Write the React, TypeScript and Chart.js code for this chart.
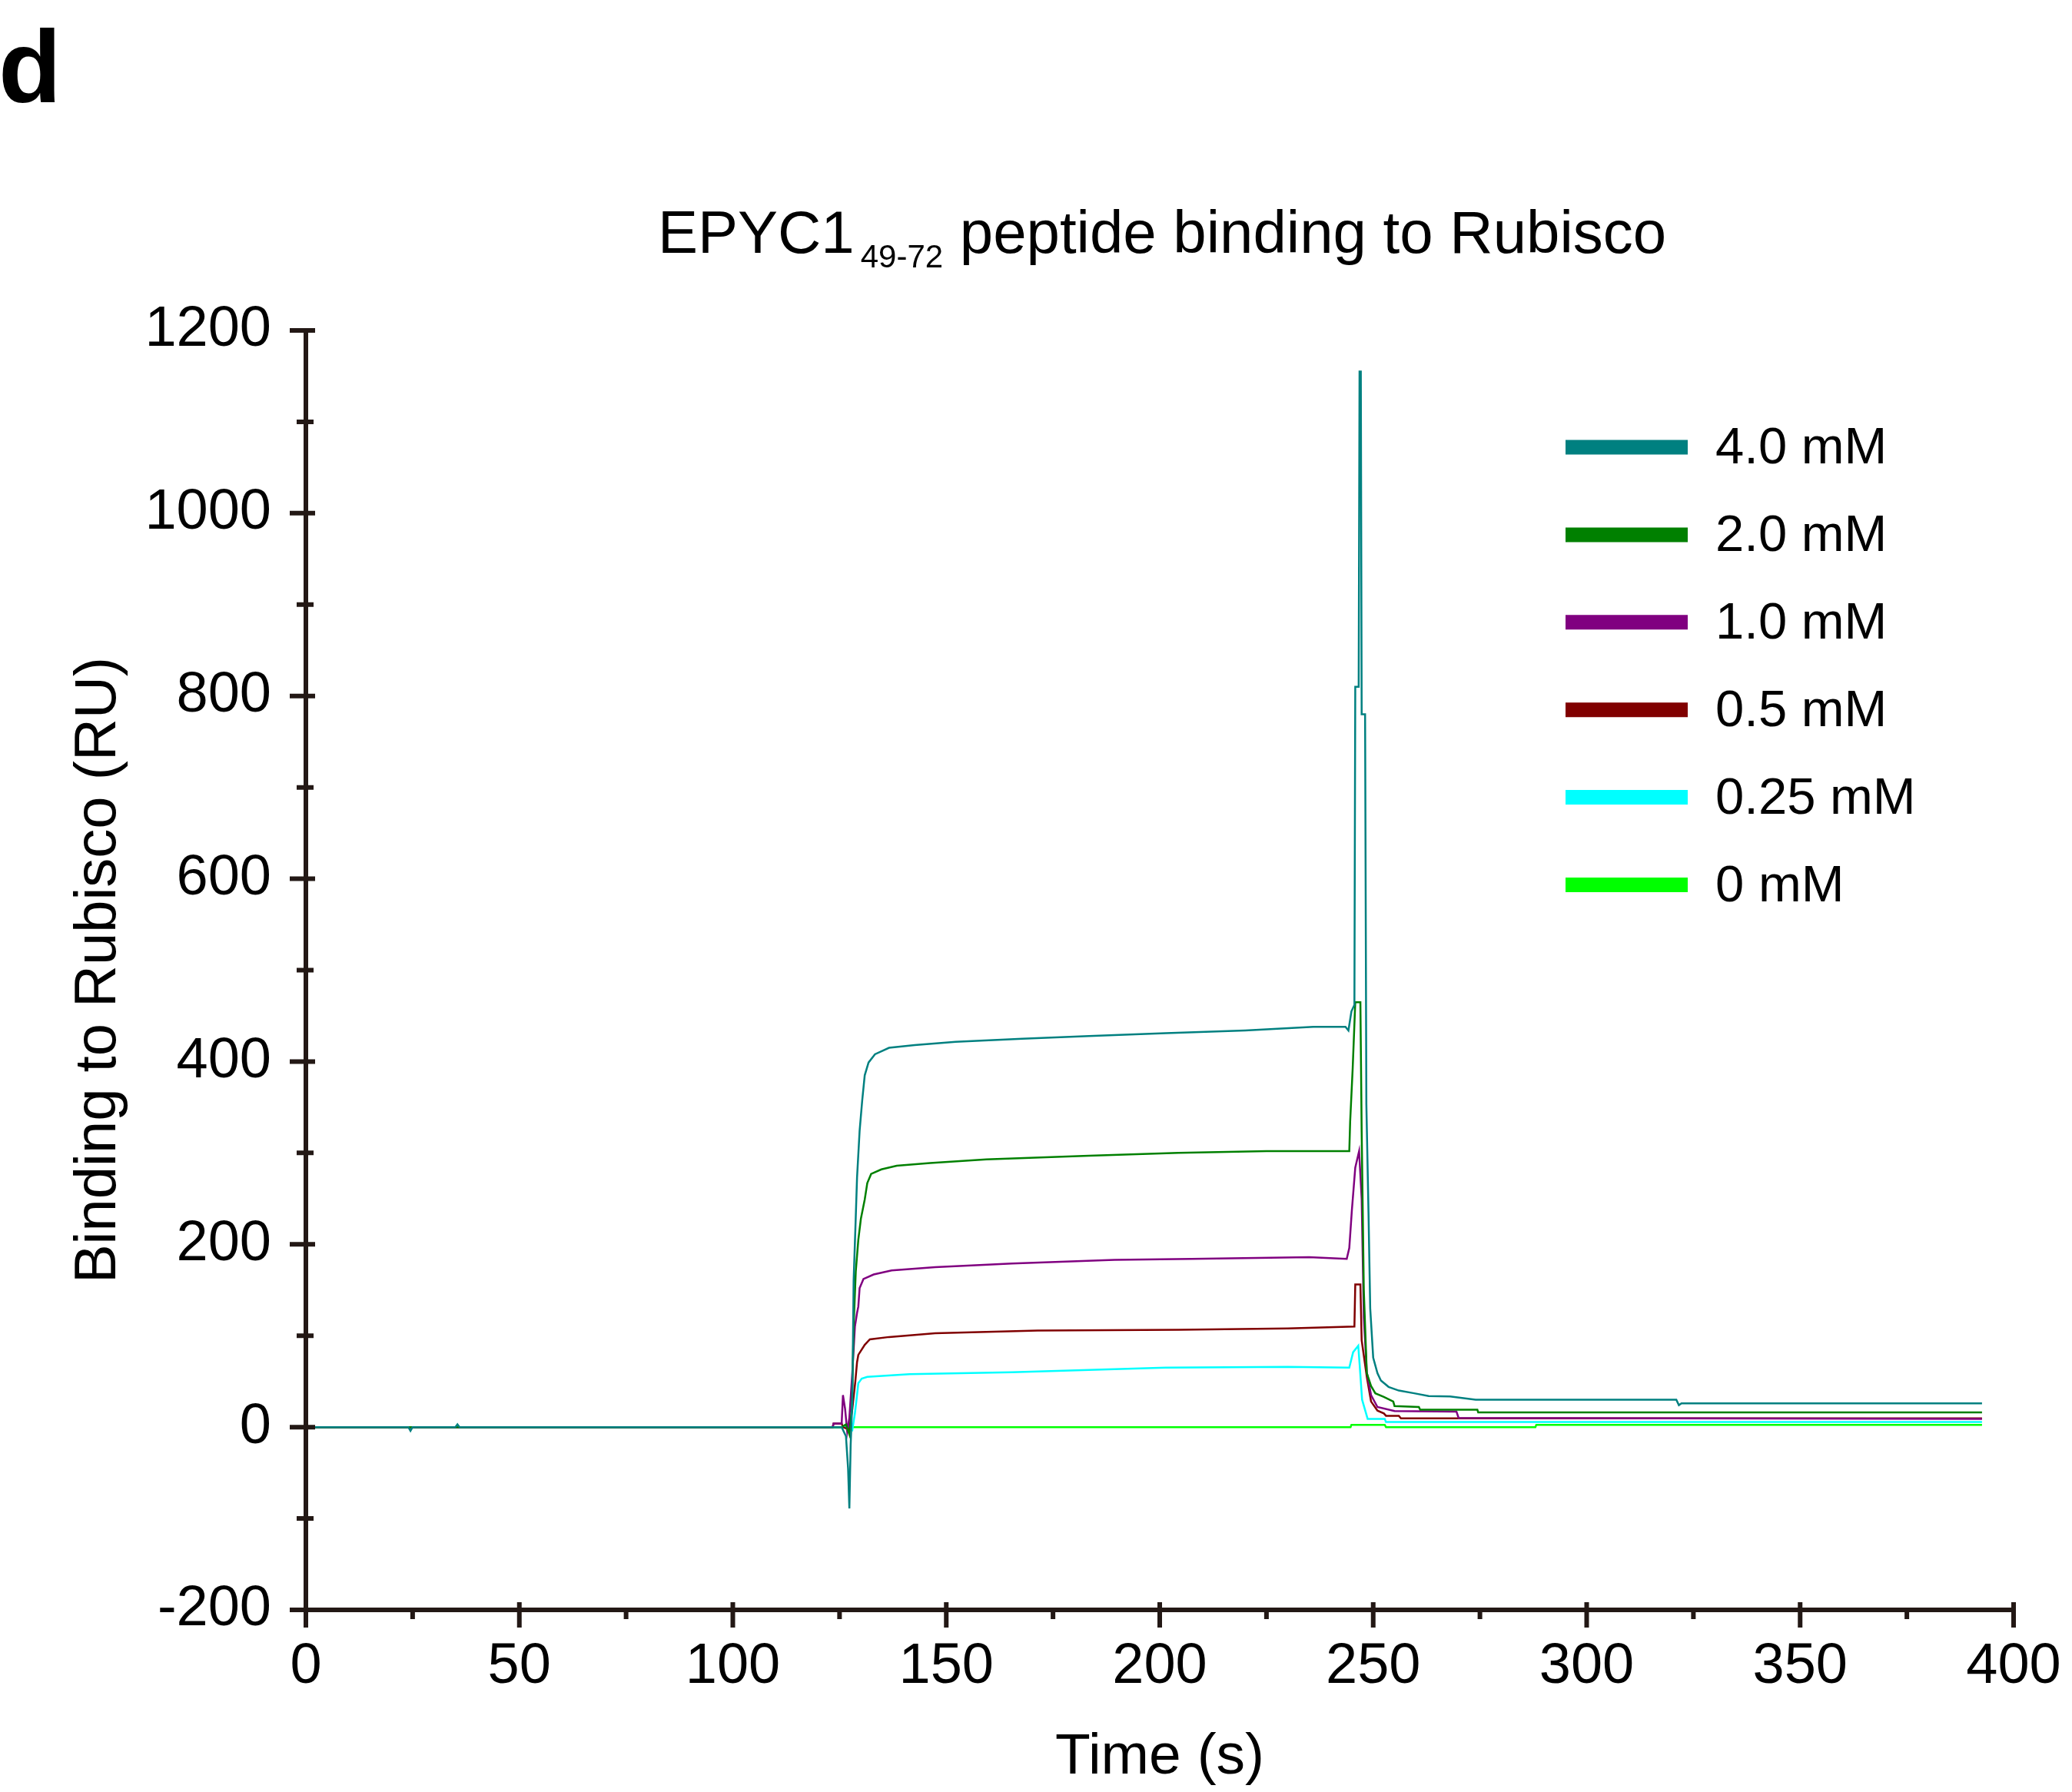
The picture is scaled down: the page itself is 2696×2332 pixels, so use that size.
import React, { useEffect, useRef } from "react";
import { Chart, registerables } from "chart.js";

Chart.register(...registerables);

const FONT = "'Liberation Sans', Arial, Helvetica, sans-serif";
const AXIS_COLOR = "#231815";

// ---- chart text ----
const panelLabel = "d";
const titleMain = "EPYC1";
const titleSub = "49-72";
const titleRest = " peptide binding to Rubisco";
const xTitle = "Time (s)";
const yTitle = "Binding to Rubisco (RU)";

// ---- axes ----
const xTickValues = [0, 50, 100, 150, 200, 250, 300, 350, 400];
const xMinorValues = [25, 75, 125, 175, 225, 275, 325, 375];
const yTickValues = [-200, 0, 200, 400, 600, 800, 1000, 1200];
const yMinorValues = [-100, 100, 300, 500, 700, 900, 1100];

// ---- series ----
const seriesLabels = ["4.0 mM", "2.0 mM", "1.0 mM", "0.5 mM", "0.25 mM", "0 mM"];
const seriesColors = ["#008080", "#008000", "#800080", "#800000", "#00FFFF", "#00FF00"];

const time40 = [0, 24, 24.5, 25, 35, 35.5, 36, 124, 125.5, 126.5, 127.0, 127.3, 127.6, 128.0, 128.3, 128.8, 129.1, 129.7, 130.3, 130.9, 131.8, 133.3, 136.6, 142.6, 152.2, 167.8, 183.4, 201.4, 220, 236, 243.5, 244.2, 244.9, 245.6, 245.8, 246.6, 246.8, 247.1, 247.3, 248.1, 248.4, 248.9, 249.3, 250, 251, 251.8, 253.6, 256, 259.6, 263, 268, 274, 321, 321.6, 322.2, 392.6];
const resp40 = [0, 0, -4, 0, 0, 3, 0, 0, 0, -10, -45, -89, -20, 30, 160, 230, 273, 324, 357, 385, 399, 408, 415, 418, 421.5, 425, 428, 431, 434, 438, 438, 434, 455, 462, 810, 810, 1155, 1155, 780, 780, 353, 235, 130, 76, 59, 51, 44, 40, 37, 34, 33.6, 30, 30, 24, 26, 26];

const time20 = [0, 125.5, 126.5, 127.3, 127.9, 128.3, 128.8, 129.4, 130.0, 130.9, 131.5, 132.4, 134.8, 138.4, 146.2, 159.4, 183.4, 204.4, 225, 244.4, 244.6, 245.2, 245.8, 247.0, 247.3, 247.8, 248.5, 249.5, 250.5, 252.5, 254.7, 255, 260.7, 261, 274.4, 274.6, 392.6];
const resp20 = [0, 0, 3, -8, 20, 110, 170, 205, 228, 249, 267, 277, 282, 286, 289, 293, 297, 300, 302, 302, 334, 393, 465, 465, 323, 150, 59, 45, 37, 33, 28, 23, 22, 19, 19, 16, 16];

const time10 = [0, 123.4, 123.6, 125.5, 125.8, 126.3, 126.8, 127.3, 128.0, 128.6, 129.1, 129.4, 129.7, 130.6, 133, 137.2, 147.4, 165.4, 189.4, 207.4, 235, 243.8, 244.4, 245.0, 245.8, 246.7, 247.3, 247.8, 248.5, 249.5, 251, 255, 269.5, 270, 392.6];
const resp10 = [0, 0, 4, 4, 35, 20, -5, 10, 60, 110, 125, 132, 152, 162, 167, 171.5, 175, 179, 183, 184, 186, 184, 196, 237, 284, 302, 250, 120, 60, 35, 22, 17.5, 17, 10, 9];

const time05 = [0, 123.4, 123.6, 125.5, 125.8, 127.3, 128.0, 128.7, 129.1, 129.4, 130.9, 132.1, 136.6, 147.4, 171.4, 204.4, 230, 245.6, 245.8, 247.0, 247.3, 248.5, 249.5, 251, 252.5, 253, 256, 256.5, 392.6];
const resp05 = [0, 0, 4, 4, 0, -3, 20, 50, 71, 79, 90, 96, 98.6, 102.8, 105.6, 106.4, 108, 110, 156, 156, 95, 55, 28, 18, 15, 12.4, 12.4, 9.5, 9.5];

const time025 = [0, 127.3, 128.0, 128.6, 129.0, 129.4, 130.2, 131.5, 141.4, 165.4, 201.4, 230, 244.4, 245.3, 246.5, 246.8, 247.4, 248.2, 248.7, 252.7, 253, 392.6];
const resp025 = [0, 0, -3, 15, 31, 48, 53, 55, 58, 60, 65, 66, 65, 82, 89, 70, 30, 17, 9, 9, 5.5, 5.5];

const time00 = [0, 244.7, 244.9, 252.7, 253, 288, 288.2, 392.6];
const resp00 = [0, 0, 2.5, 2.5, 0, 0, 2.5, 2.5];

const seriesTimes = [time40, time20, time10, time05, time025, time00];
const seriesValues = [resp40, resp20, resp10, resp05, resp025, resp00];

const decorPlugin = {
  id: "decor",
  afterDatasetsDraw(chart: any) {
    const ctx = chart.ctx;
    const xs = chart.scales.x;
    const ys = chart.scales.y;
    const x0 = xs.getPixelForValue(0);
    const x1 = xs.getPixelForValue(400);
    const yTop = ys.getPixelForValue(1200);
    const yBot = ys.getPixelForValue(-200);
    ctx.save();
    ctx.strokeStyle = AXIS_COLOR;
    ctx.lineWidth = 6;
    ctx.lineCap = "butt";
    ctx.beginPath();
    ctx.moveTo(x0, yTop);
    ctx.lineTo(x0, yBot);
    ctx.moveTo(x0, yBot);
    ctx.lineTo(x1, yBot);
    xTickValues.forEach((v) => {
      const px = xs.getPixelForValue(v);
      ctx.moveTo(px, yBot - 10);
      ctx.lineTo(px, yBot + 23);
    });
    xMinorValues.forEach((v) => {
      const px = xs.getPixelForValue(v);
      ctx.moveTo(px, yBot);
      ctx.lineTo(px, yBot + 12);
    });
    yTickValues.forEach((v) => {
      const py = ys.getPixelForValue(v);
      ctx.moveTo(x0 - 21, py);
      ctx.lineTo(x0 + 12, py);
    });
    yMinorValues.forEach((v) => {
      const py = ys.getPixelForValue(v);
      ctx.moveTo(x0 - 12, py);
      ctx.lineTo(x0 + 10, py);
    });
    ctx.stroke();

    // legend
    const ds = chart.data.datasets;
    ctx.textBaseline = "middle";
    ctx.textAlign = "left";
    ctx.font = `67px ${FONT}`;
    ds.forEach((d: any, i: number) => {
      const ry = 582 + i * 113.9;
      ctx.strokeStyle = d.borderColor;
      ctx.lineWidth = 19;
      ctx.beginPath();
      ctx.moveTo(2037, ry);
      ctx.lineTo(2196, ry);
      ctx.stroke();
      ctx.fillStyle = "#000";
      ctx.fillText(d.label, 2232, ry + 3);
    });

    // title
    ctx.fillStyle = "#000";
    ctx.textBaseline = "alphabetic";
    ctx.font = `78px ${FONT}`;
    const wMain = ctx.measureText(titleMain).width;
    const wRest = ctx.measureText(titleRest).width;
    ctx.font = `42px ${FONT}`;
    const wSub = ctx.measureText(titleSub).width;
    const gap = 8;
    const total = wMain + gap + wSub + wRest;
    const cx = (chart.chartArea.left + chart.chartArea.right) / 2 + 3;
    let tx = cx - total / 2;
    ctx.font = `78px ${FONT}`;
    ctx.fillText(titleMain, tx, 329);
    tx += wMain + gap;
    ctx.font = `42px ${FONT}`;
    ctx.fillText(titleSub, tx, 348);
    tx += wSub;
    ctx.font = `78px ${FONT}`;
    ctx.fillText(titleRest, tx, 329);

    // panel label
    ctx.font = `bold 134px ${FONT}`;
    ctx.fillText(panelLabel, -2, 133);
    ctx.restore();
  },
};

export default function App() {
  const ref = useRef<HTMLCanvasElement | null>(null);
  useEffect(() => {
    document.body.style.margin = "0";
    const canvas = ref.current;
    if (!canvas) return;
    const datasets = seriesLabels.map((label, i) => ({
      label,
      data: seriesTimes[i].map((t, j) => ({ x: t, y: seriesValues[i][j] })),
      borderColor: seriesColors[i],
      backgroundColor: seriesColors[i],
      borderWidth: 2.5,
      pointRadius: 0,
      fill: false,
      tension: 0,
    }));
    const chart = new Chart(canvas, {
      type: "line",
      data: { datasets },
      options: {
        animation: false,
        responsive: false,
        devicePixelRatio: 1,
        layout: { padding: { left: 0, top: 430, right: 76, bottom: 0 } },
        plugins: { legend: { display: false }, tooltip: { enabled: false } },
        scales: {
          x: {
            type: "linear",
            min: 0,
            max: 400,
            afterBuildTicks: (s: any) => {
              s.ticks = xTickValues.map((v) => ({ value: v }));
            },
            afterFit: (s: any) => {
              s.height = 237;
              s.paddingLeft = 0;
              s.paddingRight = 0;
            },
            grid: { display: false, drawTicks: false },
            border: { display: false },
            ticks: {
              padding: 30,
              maxRotation: 0,
              autoSkip: false,
              color: "#000",
              font: { family: FONT, size: 74 },
              callback: (v: any) => String(v),
            },
            title: {
              display: true,
              text: xTitle,
              color: "#000",
              font: { family: FONT, size: 75 },
              padding: { top: 0, bottom: 0 },
            },
          },
          y: {
            type: "linear",
            min: -200,
            max: 1200,
            afterBuildTicks: (s: any) => {
              s.ticks = yTickValues.map((v) => ({ value: v }));
            },
            afterFit: (s: any) => {
              s.width = 398;
              s.paddingTop = 0;
              s.paddingBottom = 0;
            },
            grid: { display: false, drawTicks: false },
            border: { display: false },
            ticks: {
              padding: 45,
              autoSkip: false,
              color: "#000",
              font: { family: FONT, size: 74 },
              callback: (v: any) => String(v),
            },
            title: {
              display: true,
              text: yTitle,
              color: "#000",
              font: { family: FONT, size: 76 },
              padding: { top: 83, bottom: 0 },
            },
          },
        },
      },
      plugins: [decorPlugin],
    });
    return () => chart.destroy();
  }, []);
  return <canvas ref={ref} width={2696} height={2332} style={{ display: "block" }} />;
}
